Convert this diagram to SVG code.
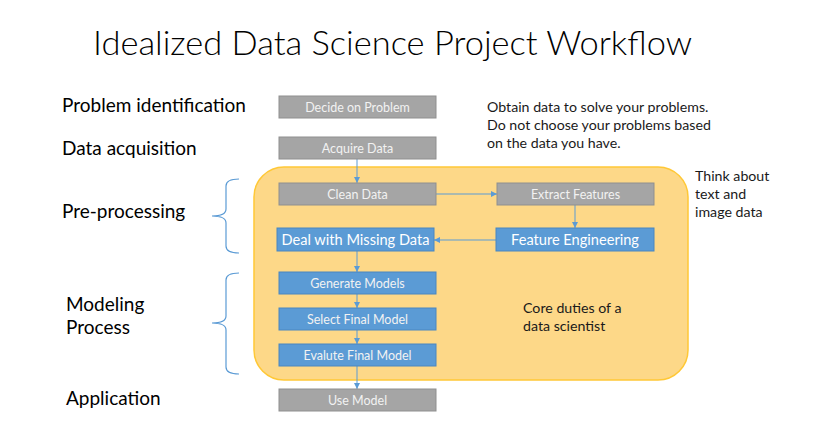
<svg xmlns="http://www.w3.org/2000/svg" width="833" height="448" viewBox="0 0 833 448">
<defs>
<style>
.lbl{font-family:Lato,"Liberation Sans",sans-serif;font-size:19px;fill:#000}
.note{font-family:Lato,"Liberation Sans",sans-serif;font-size:14.2px;fill:#1a1a1a}
.gbox{fill:#a5a5a5;stroke:#8f8f8f;stroke-width:1}
.bbox{fill:#5b9bd5;stroke:#4a86c0;stroke-width:1}
.btxt{font-family:Lato,"Liberation Sans",sans-serif;font-size:12.5px;fill:#f2f2f2;text-anchor:middle}
.btxtL{font-family:Lato,"Liberation Sans",sans-serif;font-size:14.6px;fill:#ffffff;text-anchor:middle}
.conn{stroke:#5b9bd5;stroke-width:1;fill:none}
.brace{stroke:#5b9bd5;stroke-width:1.2;fill:none}
</style>
<marker id="ah" viewBox="0 0 6 6" refX="6" refY="3" markerWidth="6" markerHeight="6" orient="auto" markerUnits="userSpaceOnUse">
<path d="M0,0 L6,3 L0,6 z" fill="#5b9bd5"/>
</marker>
</defs>
<rect width="833" height="448" fill="#ffffff"/>
<text x="93" y="55" font-family="Lato,'Liberation Sans',sans-serif" font-weight="300" font-size="34" fill="#000" textLength="599" lengthAdjust="spacingAndGlyphs">Idealized Data Science Project Workflow</text>

<g id="core-region">
<rect x="254" y="167" width="434" height="213" rx="30" ry="30" fill="#fdd888" stroke="#ffc836" stroke-width="1.5"/>
</g>

<g id="stage-labels">
<text class="lbl" x="62" y="112">Problem identification</text>
<text class="lbl" x="62" y="155">Data acquisition</text>
<text class="lbl" x="62" y="218">Pre-processing</text>
<text class="lbl" x="66" y="311">Modeling</text>
<text class="lbl" x="66" y="334">Process</text>
<text class="lbl" x="66" y="405">Application</text>
</g>

<g id="braces">
<path class="brace" d="M239,179 Q226,179 226,186 L226,209 Q226,216 212,216 Q226,216 226,223 L226,246 Q226,253 239,253"/>
<path class="brace" d="M239,273 Q226,273 226,280 L226,316 Q226,323 212,323 Q226,323 226,330 L226,367 Q226,374 239,374"/>
</g>

<g id="notes">
<text class="note" x="487" y="112">Obtain data to solve your problems.</text>
<text class="note" x="487" y="130">Do not choose your problems based</text>
<text class="note" x="487" y="148">on the data you have.</text>
<text class="note" x="695" y="181">Think about</text>
<text class="note" x="695" y="199">text and</text>
<text class="note" x="695" y="217">image data</text>
<text class="note" x="523" y="313">Core duties of a</text>
<text class="note" x="523" y="331">data scientist</text>
</g>

<g id="connectors">
<line class="conn" x1="357" y1="159" x2="357" y2="183" marker-end="url(#ah)"/>
<line class="conn" x1="436" y1="194" x2="497" y2="194" marker-end="url(#ah)"/>
<line class="conn" x1="575" y1="205" x2="575" y2="228" marker-end="url(#ah)"/>
<line class="conn" x1="496" y1="240" x2="434" y2="240" marker-end="url(#ah)"/>
<line class="conn" x1="357" y1="251" x2="357" y2="272" marker-end="url(#ah)"/>
<line class="conn" x1="357" y1="294" x2="357" y2="308" marker-end="url(#ah)"/>
<line class="conn" x1="357" y1="330" x2="357" y2="344" marker-end="url(#ah)"/>
<line class="conn" x1="357" y1="366" x2="357" y2="389" marker-end="url(#ah)"/>
</g>

<g id="decide">
<rect class="gbox" x="279" y="96" width="157" height="22"/>
<text class="btxt" x="357.5" y="111.5">Decide on Problem</text>
</g>
<g id="acquire">
<rect class="gbox" x="279" y="137" width="157" height="22"/>
<text class="btxt" x="357.5" y="152.5">Acquire Data</text>
</g>
<g id="clean">
<rect class="gbox" x="279" y="183" width="157" height="22"/>
<text class="btxt" x="357.5" y="198.5">Clean Data</text>
</g>
<g id="extract">
<rect class="gbox" x="497" y="183" width="157" height="22"/>
<text class="btxt" x="575.5" y="198.5">Extract Features</text>
</g>
<g id="missing">
<rect class="bbox" x="277" y="228" width="157" height="23"/>
<text class="btxtL" x="355.5" y="245">Deal with Missing Data</text>
</g>
<g id="feature-eng">
<rect class="bbox" x="496" y="228" width="158" height="23"/>
<text class="btxtL" x="575" y="245">Feature Engineering</text>
</g>
<g id="generate">
<rect class="bbox" x="279" y="272" width="157" height="22"/>
<text class="btxt" x="357.5" y="287.5">Generate Models</text>
</g>
<g id="select">
<rect class="bbox" x="279" y="308" width="157" height="22"/>
<text class="btxt" x="357.5" y="323.5">Select Final Model</text>
</g>
<g id="evaluate">
<rect class="bbox" x="279" y="344" width="157" height="22"/>
<text class="btxt" x="357.5" y="359.5">Evalute Final Model</text>
</g>
<g id="use">
<rect class="gbox" x="279" y="389" width="157" height="22"/>
<text class="btxt" x="357.5" y="404.5">Use Model</text>
</g>
</svg>
